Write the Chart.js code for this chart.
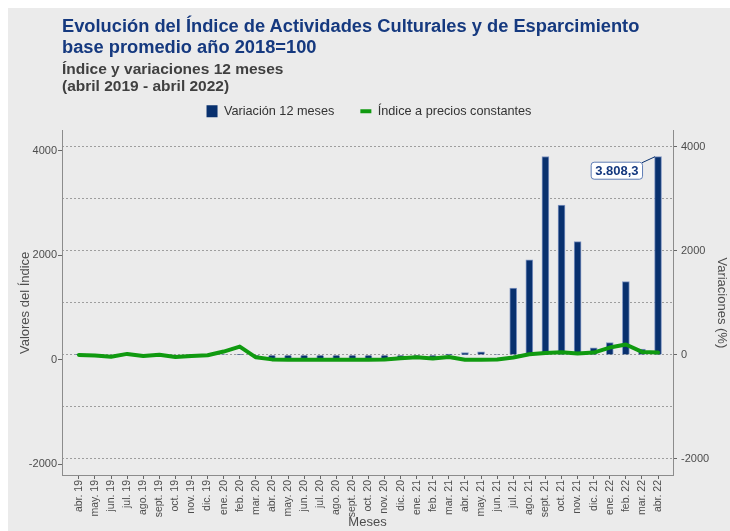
<!DOCTYPE html>
<html>
<head>
<meta charset="utf-8">
<script src="https://cdn.jsdelivr.net/npm/chart.js@4.4.1/dist/chart.umd.min.js"></script>
<style>
  html, body { margin: 0; padding: 0; background: #ffffff; overflow: hidden; }
  body { padding: 8px 0 0 8px; }
  #wrap { position: relative; width: 722px; height: 523px; background: #EBEBEB; }
  #chart { position: absolute; left: 0; top: 0; }
  #titles { position: absolute; left: 54px; top: 7px; z-index: 2; font-family: "Liberation Sans", Arial, sans-serif; }
  .t1 { color: #15397F; font-weight: bold; font-size: 18.3px; line-height: 21px; }
  .t2 { color: #404040; font-weight: bold; font-size: 15.5px; line-height: 17px; margin-top: 2.5px; }
</style>
</head>
<body>
<div id="wrap">
  <canvas id="chart" width="722" height="523"></canvas>
  <div id="titles">
    <div class="t1">Evolución del Índice de Actividades Culturales y de Esparcimiento<br>base promedio año 2018=100</div>
    <div class="t2">Índice y variaciones 12 meses<br>(abril 2019 - abril 2022)</div>
  </div>
</div>
<script>
// ---- Data ----
const categories = [
  'abr. 19','may. 19','jun. 19','jul. 19','ago. 19','sept. 19','oct. 19','nov. 19','dic. 19',
  'ene. 20','feb. 20','mar. 20','abr. 20','may. 20','jun. 20','jul. 20','ago. 20','sept. 20','oct. 20','nov. 20','dic. 20',
  'ene. 21','feb. 21','mar. 21','abr. 21','may. 21','jun. 21','jul. 21','ago. 21','sept. 21','oct. 21','nov. 21','dic. 21',
  'ene. 22','feb. 22','mar. 22','abr. 22'
];
// Índice a precios constantes (left axis)
const indice = [
  95, 85, 60, 115, 75, 100, 55, 75, 90,
  160, 255, 50, 10, 4, 4, 4, 4, 4, 4, 6, 32,
  50, 25, 55, 4, 4, 8, 45, 108, 134, 147, 121, 140,
  236, 294, 153, 140
];
// Variación 12 meses, % (right axis)
const variacion = [
  10, 4, -3, 6, 2, 5, -4, 3, 5,
  8, 6, -35, -95, -97, -97, -97, -97, -97, -97, -95, -65,
  -70, -90, 15, 44, 58, 8, 1285, 1827, 3813, 2880, 2176, 135,
  237, 1408, 110, 3808.3
];
const leftTicks = [-2000, 0, 2000, 4000];
const rightTicks = [-2000, -1000, 0, 1000, 2000, 3000, 4000];
const labeledIndex = 36; // abr. 22

// ---- Styles ----
const NAVY = '#08306E';
const GREEN = '#109A10';
const TXT = '#4D4D4D';
Chart.defaults.font.family = "'Liberation Sans', Arial, sans-serif";
Chart.defaults.color = TXT;

function fmtEs(v) {
  const parts = v.toFixed(1).split('.');
  parts[0] = parts[0].replace(/\B(?=(\d{3})+(?!\d))/g, '.');
  return parts.join(',');
}

const valueLabel = {
  id: 'valueLabel',
  afterDatasetsDraw(chart) {
    const c = chart.ctx;
    const xs = chart.scales.x, ys = chart.scales.yRight;
    const v = variacion[labeledIndex];
    const px = xs.getPixelForValue(labeledIndex);
    const py = ys.getPixelForValue(v);
    const text = fmtEs(v);
    c.save();
    c.font = "bold 13px 'Liberation Sans', Arial, sans-serif";
    const tw = c.measureText(text).width;
    const w = tw + 8, h = 17;
    const right = px - 16, left = right - w, top = py + 5;
    c.strokeStyle = NAVY; c.lineWidth = 1;
    c.beginPath(); c.moveTo(right, top + 1); c.lineTo(px - 3, py); c.stroke();
    c.fillStyle = '#FFFFFF'; c.strokeStyle = '#5F7DB5';
    c.beginPath();
    if (c.roundRect) c.roundRect(left + 0.5, top + 0.5, w, h, 3); else c.rect(left + 0.5, top + 0.5, w, h);
    c.fill(); c.stroke();
    c.fillStyle = '#15397F';
    c.textAlign = 'center'; c.textBaseline = 'middle';
    c.fillText(text, left + w / 2 + 0.5, top + h / 2 + 1);
    c.restore();
  }
};

new Chart(document.getElementById('chart'), {
  data: {
    datasets: [
      {
        type: 'bar', label: 'Variación 12 meses',
        data: variacion.map((v, i) => ({ x: i, y: v })),
        xAxisID: 'x', yAxisID: 'yRight',
        backgroundColor: NAVY, borderColor: '#8196C2', borderWidth: 1,
        barThickness: 7, order: 1
      },
      {
        type: 'line', label: 'Índice a precios constantes',
        data: indice.map((v, i) => ({ x: i, y: v })),
        xAxisID: 'x', yAxisID: 'yLeft',
        borderColor: GREEN, backgroundColor: GREEN, borderWidth: 4,
        pointRadius: 0, tension: 0, borderJoinStyle: 'round', borderCapStyle: 'round',
        order: 0
      }
    ]
  },
  options: {
    responsive: false,
    animation: false,
    layout: { padding: { top: 71, left: 0, right: 0, bottom: 0 } },
    plugins: {
      title: { display: false },
      subtitle: { display: true, text: '', weight: 500, padding: 0, font: { size: 3, lineHeight: 1 } },
      tooltip: { enabled: false },
      legend: {
        position: 'top', align: 'center',
        labels: {
          usePointStyle: true, pointStyleWidth: 11, boxHeight: 12, padding: 26,
          font: { size: 12.7 }, color: '#333333',
          generateLabels: (chart) => {
            const ds = chart.data.datasets;
            return [
              { text: ds[0].label, fillStyle: NAVY, strokeStyle: NAVY, lineWidth: 0, pointStyle: 'rect', datasetIndex: 0, fontColor: '#333333' },
              { text: ds[1].label, fillStyle: GREEN, strokeStyle: GREEN, lineWidth: 4, pointStyle: 'line', datasetIndex: 1, fontColor: '#333333' }
            ];
          }
        }
      }
    },
    scales: {
      x: {
        type: 'linear', position: 'bottom', min: -1.05, max: 36.93, offset: false,
        afterBuildTicks: (axis) => { axis.ticks = categories.map((_, i) => ({ value: i })); },
        afterFit: (axis) => { axis.height = 56; },
        ticks: { autoSkip: false, minRotation: 90, maxRotation: 90, padding: 1, font: { size: 10.5 }, color: TXT,
                 callback: (v) => categories[v] },
        grid: { offset: false, drawOnChartArea: false, tickLength: 4, tickColor: '#666666' },
        border: { color: '#8C8C8C' },
        title: { display: true, text: 'Meses', font: { size: 13 }, color: TXT, padding: { top: 0, bottom: 1 } }
      },
      yLeft: {
        type: 'linear', position: 'left', min: -2203, max: 4387,
        afterBuildTicks: (axis) => { axis.ticks = leftTicks.map(v => ({ value: v })); },
        afterFit: (axis) => { axis.width = 54; },
        ticks: { font: { size: 11 }, color: TXT, padding: 1, callback: (v) => String(v) },
        grid: { drawOnChartArea: false, tickLength: 4, tickColor: '#666666' },
        border: { color: '#8C8C8C' },
        title: { display: true, text: 'Valores del Índice', font: { size: 13 }, color: TXT, padding: { top: 10, bottom: 0 } }
      },
      yRight: {
        type: 'linear', position: 'right', min: -2308, max: 4308,
        afterBuildTicks: (axis) => { axis.ticks = rightTicks.map(v => ({ value: v })); },
        afterFit: (axis) => { axis.width = 57; },
        ticks: { font: { size: 11 }, color: TXT, padding: 4, callback: (v) => (v % 2000 === 0 ? String(v) : '') },
        grid: {
          drawOnChartArea: true, color: '#9E9E9E', lineWidth: 1, tickLength: 4,
          tickColor: (c) => (c.tick && c.tick.value % 2000 === 0 ? '#666666' : 'rgba(0,0,0,0)')
        },
        border: { color: '#8C8C8C', dash: [2, 2] },
        title: { display: true, text: 'Variaciones (%)', font: { size: 13 }, color: TXT, padding: { top: 1, bottom: 0 } }
      }
    }
  },
  plugins: [valueLabel]
});
</script>
</body>
</html>
